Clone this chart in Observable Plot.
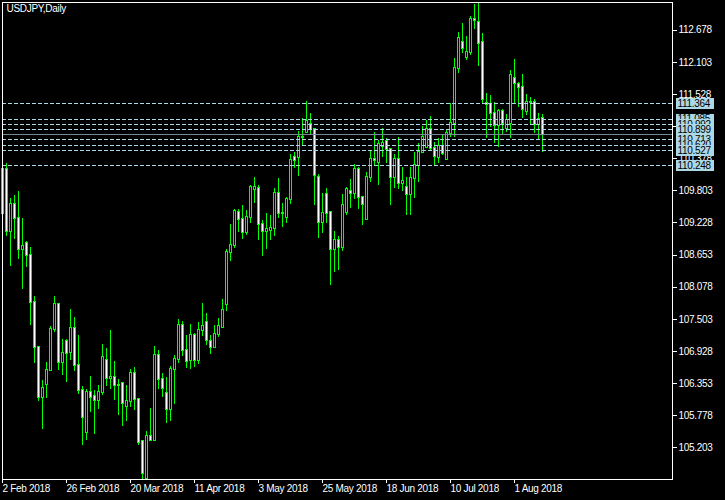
<!DOCTYPE html>
<html><head><meta charset="utf-8">
<script src="https://cdn.jsdelivr.net/npm/d3@7"></script>
<script src="https://cdn.jsdelivr.net/npm/@observablehq/plot@0.6"></script>
<style>
html,body{margin:0;padding:0;background:#000;}
svg rect, svg line, svg path {shape-rendering:crispEdges;}
svg text {letter-spacing:-0.3px;}
</style></head><body>
<div id="chart"></div>
<script>
const symbol = "USDJPY,Daily";
// Daily OHLC, one entry per trading day starting 2 Feb 2018
const open = [109.392,110.179,109.070,109.553,109.302,108.747,108.855,108.640,107.811,107.005,
106.110,106.331,106.582,107.316,107.769,106.737,107.112,106.904,107.333,106.671,
106.224,105.484,106.188,106.116,106.057,106.188,106.760,106.438,106.456,106.313,
106.349,105.949,106.027,106.534,106.063,105.317,104.648,105.406,105.329,106.850,
106.420,106.170,105.884,106.605,106.778,107.393,106.940,106.760,107.208,106.772,
107.297,107.452,107.100,106.993,107.226,107.351,107.763,108.693,108.819,109.409,
109.284,109.051,109.320,109.833,109.839,109.195,109.081,109.087,109.123,109.749,
109.392,109.332,109.642,110.394,110.394,110.758,110.853,110.996,110.895,110.047,
109.242,109.731,109.409,108.747,108.914,108.795,109.421,109.797,109.761,110.179,
109.678,109.296,110.035,110.358,110.316,110.602,110.680,110.537,110.047,110.358,
109.940,109.857,109.737,110.018,110.256,110.483,110.585,110.895,110.555,110.405,
110.602,110.370,110.835,111.002,111.987,112.452,112.195,112.273,112.864,112.822,
112.452,111.360,111.342,111.193,110.972,111.223,110.925,111.014,111.808,111.700,
111.646,111.223,111.390,111.384,110.990,111.092];
const high = [110.257,110.286,109.660,109.714,109.785,109.302,108.897,108.783,107.912,107.017,
106.408,106.731,107.375,107.912,107.787,107.142,107.136,107.679,107.536,107.214,
106.295,106.242,106.474,106.230,106.313,107.053,106.975,107.304,106.748,106.426,
106.367,106.319,106.605,106.641,106.081,105.329,105.496,105.907,107.017,106.946,
106.534,106.456,106.659,106.856,107.500,107.464,107.208,107.411,107.250,107.440,
107.787,107.608,107.208,107.393,107.518,107.858,108.753,109.200,109.469,109.463,
109.541,109.451,109.898,110.036,109.898,109.272,109.397,109.361,109.839,110.018,
109.570,109.678,110.453,110.495,110.865,111.092,111.402,111.181,110.913,110.095,
109.761,109.845,109.421,109.075,108.992,109.737,109.857,110.000,110.274,110.215,
109.690,110.125,110.507,110.841,110.704,110.919,110.740,110.543,110.453,110.758,
110.227,110.041,110.227,110.483,110.644,110.949,111.062,111.133,110.674,110.746,
110.793,110.883,111.360,112.166,112.631,112.792,112.565,112.923,113.138,113.162,
112.613,111.539,111.503,111.378,111.259,111.265,111.163,111.957,112.148,111.742,
111.885,111.527,111.467,111.438,111.193,111.169];
const low = [109.302,108.992,108.455,108.926,108.580,108.043,108.437,107.399,106.719,106.039,
105.537,106.092,106.564,107.268,106.594,106.498,106.379,106.767,106.564,106.164,
105.251,105.341,105.842,105.448,105.896,106.140,106.301,106.253,106.057,105.788,
105.591,105.680,105.931,105.878,105.251,104.636,104.654,105.317,105.317,106.253,
106.104,105.645,105.680,105.985,106.707,106.844,106.617,106.611,106.647,106.701,
107.202,107.029,106.880,106.993,107.172,107.351,107.649,108.544,108.777,109.057,
108.938,108.998,109.224,109.582,108.914,108.634,108.759,108.914,108.986,109.302,
109.153,109.212,109.558,110.197,110.065,110.614,110.823,110.793,109.541,108.956,
109.045,109.224,108.115,108.347,108.377,108.723,109.362,109.481,109.648,109.469,
109.183,109.296,109.958,110.244,109.898,110.406,110.286,109.541,109.839,109.821,
109.791,109.362,109.362,109.666,109.958,110.477,110.555,110.525,110.244,110.286,
110.435,110.346,110.752,110.764,111.909,112.267,112.136,112.225,112.691,112.028,
111.360,110.746,110.942,110.644,110.585,110.793,110.853,110.746,111.360,111.300,
111.092,111.151,110.990,110.835,110.704,110.495];
const close = [110.185,109.070,109.553,109.302,108.747,108.801,108.640,107.811,106.993,106.110,
106.259,106.582,107.316,107.769,106.737,106.886,106.898,107.333,106.671,106.224,
105.740,106.188,106.110,106.057,106.188,106.814,106.438,106.456,106.313,106.325,
105.991,106.027,106.534,106.063,105.305,104.738,105.406,105.329,106.850,106.420,
106.271,105.884,106.605,106.778,107.393,106.940,106.742,107.208,106.772,107.297,
107.369,107.118,106.993,107.226,107.369,107.655,108.693,108.819,109.427,109.296,
109.051,109.320,109.857,109.857,109.195,109.070,109.111,109.123,109.749,109.392,
109.403,109.642,110.340,110.340,110.758,110.763,111.044,110.895,110.071,109.242,
109.392,109.403,108.747,108.914,108.795,109.541,109.821,109.761,110.179,109.690,
109.553,110.035,110.358,110.340,110.632,110.656,110.537,110.047,110.358,109.940,
109.976,109.731,110.018,110.256,110.483,110.752,110.895,110.555,110.423,110.602,
110.465,110.835,111.002,111.987,112.523,112.345,112.273,112.864,112.846,112.434,
111.444,111.348,111.193,110.972,111.223,111.002,111.056,111.861,111.718,111.646,
111.265,111.390,111.384,110.990,111.074,110.811];
// horizontal level lines with price labels
const levels = [111.364,111.085,110.992,110.899,110.713,110.620,110.527,110.248];
// price axis ticks
const yTicks = [112.678,112.103,111.528,110.953,110.378,109.803,109.228,108.653,108.078,107.503,106.928,106.353,105.778,105.203];
// time axis ticks (bar number) and their labels
const xTickBars = [0,16,32,48,64,80,96,112,128];
const xTickLabels = ["2 Feb 2018","26 Feb 2018","20 Mar 2018","11 Apr 2018","3 May 2018","25 May 2018","18 Jun 2018","10 Jul 2018","1 Aug 2018"];

const bars = open.map((o, i) => ({i, open: o, high: high[i], low: low[i], close: close[i]}));
const FONT = '"Liberation Sans",Arial,sans-serif';
const GREEN = "#00ff00", LB = "#add8e6";
const boxSymbol = {draw(ctx) { ctx.rect(-19, -5.5, 38, 11); }};

const labelMarks = levels.slice().sort((a, b) => b - a).flatMap(l => [
  Plot.dot([l], {y: d => d, frameAnchor: "right", dx: 22, symbol: boxSymbol, fill: LB, stroke: "none"}),
  Plot.text([l], {y: d => d, frameAnchor: "right", dx: 5, textAnchor: "start", fill: "#000", text: d => d.toFixed(3), fontSize: 10})
]);

const chart = Plot.plot({
  width: 725, height: 500,
  marginLeft: 2, marginTop: 2, marginRight: 53, marginBottom: 21,
  style: {background: "#000", color: "#fff", fontFamily: FONT, fontSize: "10px"},
  x: {domain: [0, 167.5]},
  y: {domain: [104.6361, 113.1738]},
  marks: [
    Plot.ruleX(bars, {x: "i", y1: "low", y2: "high", stroke: GREEN, strokeWidth: 1}),
    Plot.rect(bars, {x1: d => d.i - 0.25, x2: d => d.i + 0.25,
      y1: d => Math.min(d.open, d.close), y2: d => Math.max(d.open, d.close),
      fill: d => d.close > d.open ? "black" : "white", stroke: GREEN, strokeWidth: 1,
      insetTop: -0.5, insetBottom: -0.5}),
    Plot.ruleY([close[close.length - 1]], {stroke: "#778899"}),
    Plot.ruleY(levels, {stroke: LB, strokeDasharray: "4,2"}),
    Plot.frame({stroke: "#fff"}),
    Plot.axisY({anchor: "right", ticks: yTicks, tickFormat: d => d.toFixed(3), tickSize: 4, tickPadding: 2,
      stroke: "#fff", fill: "#fff", fontSize: 10, label: null}),
    Plot.axisX({anchor: "bottom", ticks: xTickBars, tickFormat: d => xTickLabels[xTickBars.indexOf(d)],
      textAnchor: "start", tickSize: 4, tickPadding: 1, stroke: "#fff", fill: "#fff", fontSize: 10, label: null}),
    ...labelMarks,
    Plot.text([symbol], {frameAnchor: "top-left", dx: 4, dy: 2, textAnchor: "start", lineAnchor: "top", fill: "#fff", fontSize: 10})
  ]
});
document.getElementById("chart").appendChild(chart);
</script>
</body></html>
